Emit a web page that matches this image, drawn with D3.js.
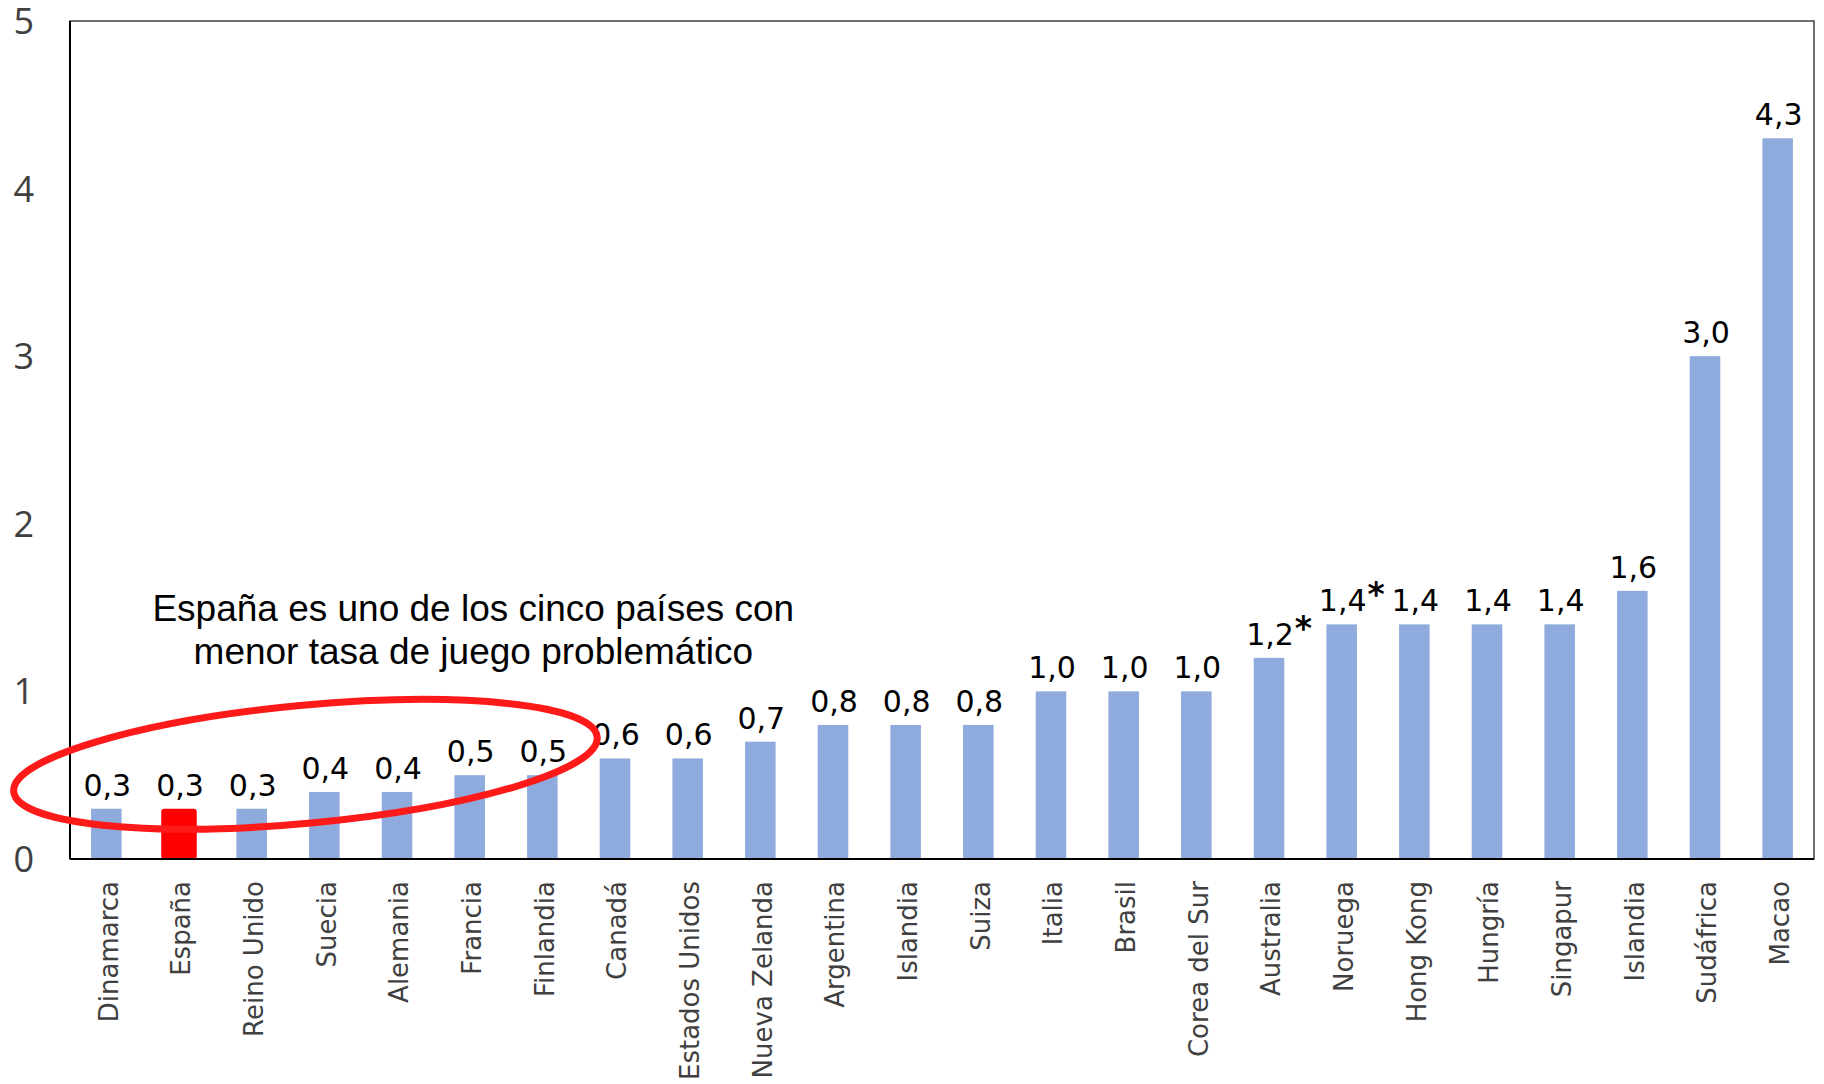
<!DOCTYPE html>
<html>
<head>
<meta charset="utf-8">
<script src="https://cdn.jsdelivr.net/npm/d3@7"></script>
<style>
  body { margin: 0; background: #fff; }
  svg { display: block; }
</style>
</head>
<body>
<div id="chart"></div>
<script>
// categories and values (tasa de juego problemático, %)
var countries = ["Dinamarca", "España", "Reino Unido", "Suecia", "Alemania", "Francia", "Finlandia",
    "Canadá", "Estados Unidos", "Nueva Zelanda", "Argentina", "Islandia", "Suiza", "Italia", "Brasil",
    "Corea del Sur", "Australia", "Noruega", "Hong Kong", "Hungría", "Singapur", "Islandia",
    "Sudáfrica", "Macao"];
var rates = [0.3, 0.3, 0.3, 0.4, 0.4, 0.5, 0.5, 0.6, 0.6, 0.7, 0.8, 0.8, 0.8, 1.0, 1.0, 1.0,
    1.2, 1.4, 1.4, 1.4, 1.4, 1.6, 3.0, 4.3];
var marks = ["", "", "", "", "", "", "", "", "", "", "", "", "", "", "", "",
    "*", "*", "", "", "", "", "", ""];
var yTicks = [0, 1, 2, 3, 4, 5];
var highlight = "España";
var noteLines = ["España es uno de los cinco países con", "menor tasa de juego problemático"];

var margin = {top: 21, right: 10, bottom: 225, left: 70};
var width = 1824 - margin.left - margin.right,
    height = 1084 - margin.top - margin.bottom;

var svg = d3.select("#chart").append("svg")
    .attr("width", 1824)
    .attr("height", 1084);

var g = svg.append("g")
    .attr("transform", "translate(" + margin.left + "," + margin.top + ")");

var data = countries.map(function(c, i) {
    return {i: i, name: c, value: rates[i], mark: marks[i]};
});

var x = d3.scaleBand()
    .domain(d3.range(countries.length))
    .range([0, width])
    .paddingInner(0.58)
    .paddingOuter(0.29);

var y = d3.scaleLinear()
    .domain([0, 5])
    .range([height, 0]);

var fmt = function(v) { return d3.format(".1f")(v).replace(".", ","); };

// plot frame
g.append("rect")
    .attr("width", width)
    .attr("height", height)
    .attr("fill", "none")
    .attr("stroke", "#404040")
    .attr("stroke-width", 1.5);

// y axis labels
g.selectAll(".ytick")
    .data(yTicks)
    .enter().append("text")
    .attr("class", "ytick")
    .attr("x", -36)
    .attr("y", function(d) { return y(d); })
    .attr("dy", "0.36em")
    .attr("text-anchor", "end")
    .attr("fill", "#404040")
    .style("font-family", "'Open Sans', sans-serif")
    .style("font-size", "36px")
    .text(function(d) { return d; });

// bars
g.selectAll(".bar")
    .data(data)
    .enter().append("rect")
    .attr("class", "bar")
    .attr("x", function(d) {
        var w = d.name == highlight ? x.bandwidth() + 5 : x.bandwidth();
        return x(d.i) + x.bandwidth() / 2 - w / 2;
    })
    .attr("width", function(d) { return d.name == highlight ? x.bandwidth() + 5 : x.bandwidth(); })
    .attr("y", function(d) { return y(d.value); })
    .attr("height", function(d) { return height - y(d.value); })
    .attr("rx", function(d) { return d.name == highlight ? 3 : 0; })
    .attr("fill", function(d) { return d.name == highlight ? "#ff0000" : "#8faadc"; });

// axis lines
g.append("line")
    .attr("x1", 0).attr("x2", 0)
    .attr("y1", 0).attr("y2", height)
    .attr("stroke", "#000").attr("stroke-width", 2);
g.append("line")
    .attr("x1", 0).attr("x2", width)
    .attr("y1", height).attr("y2", height)
    .attr("stroke", "#000").attr("stroke-width", 2);

// value labels
var labels = g.selectAll(".val")
    .data(data)
    .enter().append("g")
    .attr("class", "val")
    .attr("transform", function(d) {
        return "translate(" + (x(d.i) + x.bandwidth() / 2 + 1) + "," + (y(d.value) - 13) + ")";
    });

labels.append("text")
    .attr("text-anchor", "middle")
    .attr("fill", "#000")
    .style("font-family", "'DejaVu Sans', Verdana, sans-serif")
    .style("font-size", "30px")
    .text(function(d) { return fmt(d.value); });

labels.filter(function(d) { return d.mark; })
    .append("text")
    .attr("x", function(d) {
        return this.parentNode.querySelector("text").getComputedTextLength() / 2 + 1;
    })
    .attr("y", -5)
    .attr("fill", "#000")
    .style("font-family", "'DejaVu Sans', Verdana, sans-serif")
    .style("font-size", "33px")
    .style("font-weight", "bold")
    .text(function(d) { return d.mark; });

// category labels
g.selectAll(".cat")
    .data(data)
    .enter().append("text")
    .attr("class", "cat")
    .attr("transform", function(d) {
        return "translate(" + (x(d.i) + x.bandwidth() / 2 + 2) + "," + (height + 22) + ") rotate(-90)";
    })
    .attr("dy", "0.36em")
    .attr("text-anchor", "end")
    .attr("fill", "#404040")
    .style("font-family", "'DejaVu Sans', Verdana, sans-serif")
    .style("font-size", "26px")
    .text(function(d) { return d.name; });

// annotation: ellipse round the lowest countries, placed in data units
var ringCenter = 2.74, ringValue = 0.565;   // band index, rate
var cx = x.step() * (ringCenter + 0.5),
    cy = y(ringValue);
g.append("ellipse")
    .attr("cx", cx)
    .attr("cy", cy)
    .attr("rx", 293)
    .attr("ry", 59)
    .attr("transform", "rotate(-5.35," + cx + "," + cy + ")")
    .attr("fill", "none")
    .attr("stroke", "#ff1a1a")
    .attr("stroke-width", 7);

var note = g.append("text")
    .attr("text-anchor", "middle")
    .attr("fill", "#000")
    .style("font-family", "'Liberation Sans', Arial, sans-serif")
    .style("font-size", "37px");

note.selectAll("tspan")
    .data(noteLines)
    .enter().append("tspan")
    .attr("x", x.step() * 5.55)
    .attr("y", function(d, i) { return y(1.42) + i * 43; })
    .text(function(d) { return d; });
</script>
</body>
</html>
